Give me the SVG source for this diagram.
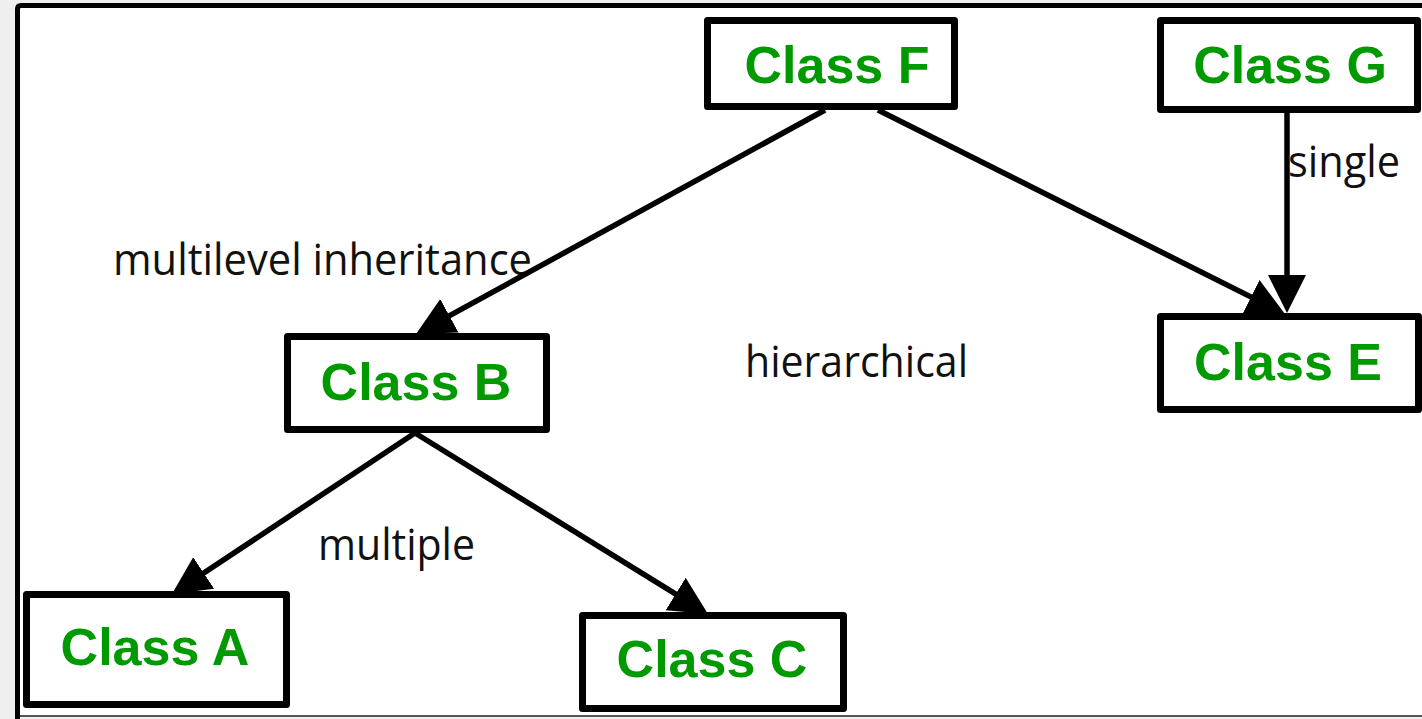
<svg xmlns="http://www.w3.org/2000/svg" width="1422" height="719" viewBox="0 0 1422 719">
  <style>
    .box { fill: #ffffff; stroke: #000000; stroke-width: 7; stroke-linejoin: round; }
    .name { font-family: "Liberation Sans", Arial, sans-serif; font-weight: bold; font-size: 52px; fill: #009900; text-anchor: middle; }
    .label { font-family: "Open Sans", "Noto Sans", sans-serif; font-size: 44px; fill: #111111; }
    .edge { stroke: #000000; stroke-width: 5.5; fill: none; marker-end: url(#head); }
  </style>
  <defs>
    <marker id="head" markerUnits="userSpaceOnUse" markerWidth="40" markerHeight="40" viewBox="0 0 40 40" refX="32" refY="20" orient="auto">
      <path d="M0,1 L38,20 L0,39 Z" fill="#000000"/>
    </marker>
  </defs>

  <!-- page background and frame -->
  <rect x="0" y="0" width="1422" height="719" fill="#efefef"/>
  <rect x="17" y="5" width="1405" height="711" fill="#ffffff"/>
  <path d="M17.5,719 V9 Q17.5,5.5 21,5.5 H1422" fill="none" stroke="#000000" stroke-width="5"/>
  <line x1="20" y1="716" x2="1422" y2="716" stroke="#555555" stroke-width="2"/>

  <!-- relationship labels -->
  <g id="labels">
    <text class="label" x="113" y="275" textLength="419" lengthAdjust="spacingAndGlyphs">multilevel inheritance</text>
    <text class="label" x="745" y="377" textLength="223" lengthAdjust="spacingAndGlyphs">hierarchical</text>
    <text class="label" x="318" y="560" textLength="157" lengthAdjust="spacingAndGlyphs">multiple</text>
    <text class="label" x="1288" y="177" textLength="112" lengthAdjust="spacingAndGlyphs">single</text>
  </g>

  <!-- inheritance arrows -->
  <g id="connectors">
    <line class="edge" x1="825" y1="110" x2="421.3" y2="331.1"/>
    <line class="edge" x1="878" y1="110" x2="1279.6" y2="311.3"/>
    <line class="edge" x1="1287" y1="113" x2="1287" y2="307"/>
    <line class="edge" x1="415" y1="433" x2="177" y2="590.7"/>
    <line class="edge" x1="415" y1="433" x2="702.9" y2="610.8"/>
  </g>

  <!-- classes -->
  <g id="class-f">
    <rect class="box" x="707.5" y="20.5" width="247" height="86"/>
    <text class="name" x="837" y="83">Class F</text>
  </g>
  <g id="class-g">
    <rect class="box" x="1160.5" y="20.5" width="257" height="89"/>
    <text class="name" x="1290" y="83">Class G</text>
  </g>
  <g id="class-b">
    <rect class="box" x="287.5" y="336.5" width="259" height="93"/>
    <text class="name" x="416" y="400">Class B</text>
  </g>
  <g id="class-e">
    <rect class="box" x="1160.5" y="316.5" width="258" height="93"/>
    <text class="name" x="1288" y="380">Class E</text>
  </g>
  <g id="class-a">
    <rect class="box" x="26.5" y="594.5" width="260" height="110"/>
    <text class="name" x="155" y="665">Class A</text>
  </g>
  <g id="class-c">
    <rect class="box" x="582.5" y="615.5" width="261" height="93"/>
    <text class="name" x="712" y="677">Class C</text>
  </g>
</svg>
